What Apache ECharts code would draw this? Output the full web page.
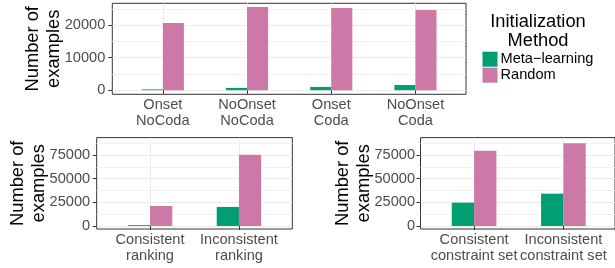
<!DOCTYPE html>
<html>
<head>
<meta charset="utf-8">
<script src="https://cdn.jsdelivr.net/npm/echarts@6/dist/echarts.min.js"></script>
<style>
  html, body { margin: 0; padding: 0; background: #fff; }
  #chart { width: 615px; height: 268px; }
</style>
</head>
<body>
<div id="chart"></div>
<script>
// data
const seriesNames = ['Meta\u2212learning', 'Random']

const syllableCats = ['Onset\nNoCoda', 'NoOnset\nNoCoda', 'Onset\nCoda', 'NoOnset\nCoda']
const syllableMeta = [250, 700, 1000, 1600]
const syllableRandom = [20700, 25630, 25300, 24700]

const rankingCats = ['Consistent\nranking', 'Inconsistent\nranking']
const rankingMeta = [900, 20100]
const rankingRandom = [21100, 75300]

const constraintCats = ['Consistent\nconstraint set', 'Inconsistent\nconstraint set']
const constraintMeta = [24600, 34100]
const constraintRandom = [79500, 87350]

// tick labels
const topTicks = [0, 10000, 20000]
const topMinor = [5000, 15000, 25000]
const bottomTicks = [0, 25000, 50000, 75000]
const bottomMinor = [12500, 37500, 62500, 87500]

const FONT = "'Liberation Sans', Arial, Helvetica, sans-serif"
const colors = ['#009E73', '#CC79A7']

const grids = []
const xAxes = []
const yAxes = []
const series = []

// one ggplot-like panel: a framed grid plus an inner grid for the bars
// (discrete axis keeps 0.6 of a category on each side, like ggplot)
const addPanel = (p) => {
  const unit = p.width / (p.cats.length - 1 + 1.2)
  const gFrame = grids.length
  grids.push({
    left: p.left, top: p.top, width: p.width, height: p.height,
    show: true, borderColor: '#333333', borderWidth: 1, backgroundColor: '#fff',
  })
  grids.push({
    left: p.left + 0.6 * unit, top: p.top, width: (p.cats.length - 1) * unit, height: p.height,
  })

  const xFrame = xAxes.length
  xAxes.push({ gridIndex: gFrame, type: 'value', min: 0, max: 1, show: false })
  xAxes.push({
    gridIndex: gFrame + 1,
    type: 'category',
    data: p.cats,
    boundaryGap: false,
    axisLine: { show: false },
    axisTick: { show: true, length: 4, lineStyle: { color: '#333333', width: 1 } },
    axisLabel: {
      color: '#4D4D4D', fontSize: 14.6, fontFamily: FONT, lineHeight: 16, margin: 3, interval: 0,
    },
    splitLine: { show: true, lineStyle: { color: '#EBEBEB', width: 1 } },
  })

  const yMajor = yAxes.length
  yAxes.push({
    gridIndex: gFrame, type: 'value', min: p.min, max: p.max,
    axisLine: { show: false },
    axisTick: { show: true, length: 4, customValues: p.ticks, lineStyle: { color: '#333333', width: 1 } },
    axisLabel: {
      customValues: p.ticks, formatter: (v) => String(v),
      color: '#4D4D4D', fontSize: 14.6, fontFamily: FONT, margin: p.labelMargin,
    },
    splitLine: { show: true, lineStyle: { color: '#EBEBEB', width: 1 } },
  })
  yAxes.push({
    gridIndex: gFrame, type: 'value', min: p.min, max: p.max, position: 'right',
    axisLine: { show: false },
    axisTick: { show: false, customValues: p.minor },
    axisLabel: { show: false },
    splitLine: { show: true, lineStyle: { color: '#F2F2F2', width: 1 } },
  })
  yAxes.push({ gridIndex: gFrame + 1, type: 'value', min: p.min, max: p.max, show: false })

  const barWidth = 0.25 * unit
  ;[p.meta, p.random].forEach((vals, k) => {
    series.push({
      type: 'bar',
      name: seriesNames[k],
      xAxisIndex: xFrame + 1,
      yAxisIndex: yMajor + 2,
      data: vals,
      barWidth: barWidth,
      barGap: '0%',
      clip: false,
      itemStyle: { color: colors[k] },
      emphasis: { disabled: true },
      z: 3,
    })
  })
}

addPanel({
  left: 112.3, top: 3.3, width: 353.7, height: 91,
  cats: syllableCats, meta: syllableMeta, random: syllableRandom,
  min: -1270, max: 26730, ticks: topTicks, minor: topMinor, labelMargin: 7,
})
addPanel({
  left: 96.7, top: 137.6, width: 195.6, height: 91.4,
  cats: rankingCats, meta: rankingMeta, random: rankingRandom,
  min: -3200, max: 93300, ticks: bottomTicks, minor: bottomMinor, labelMargin: 6.5,
})
addPanel({
  left: 420.5, top: 137.6, width: 196.5, height: 91.4,
  cats: constraintCats, meta: constraintMeta, random: constraintRandom,
  min: -3200, max: 93300, ticks: bottomTicks, minor: bottomMinor, labelMargin: 5.5,
})

// rotated y titles
const yTitle = (x, y) => ({
  type: 'text', x: x, y: y, rotation: Math.PI / 2,
  style: {
    text: 'Number of\nexamples', fontSize: 18.3, fontFamily: FONT, fill: '#000',
    align: 'center', verticalAlign: 'middle', lineHeight: 21,
  },
})

const option = {
  animation: false,
  backgroundColor: '#fff',
  grid: grids,
  xAxis: xAxes,
  yAxis: yAxes,
  series: series,
  legend: {
    data: seriesNames,
    orient: 'vertical',
    left: 482.5, top: 51.7,
    padding: 0,
    itemWidth: 15, itemHeight: 15, itemGap: 1,
    icon: 'rect',
    selectedMode: false,
    textStyle: { fontSize: 14.6, fontFamily: FONT, color: '#000', lineHeight: 15, padding: [0, 0, 0, -2] },
  },
  graphic: [
    yTitle(43.5, 48.8),
    yTitle(28.8, 183.3),
    yTitle(353, 183.3),
    {
      type: 'text', x: 538, y: 31.2,
      style: {
        text: 'Initialization\nMethod', fontSize: 18.3, fontFamily: FONT, fill: '#000',
        align: 'center', verticalAlign: 'middle', lineHeight: 19,
      },
    },
  ],
}

const myChart = echarts.init(document.getElementById('chart'), null, { renderer: 'canvas' })
myChart.setOption(option)
</script>
</body>
</html>
